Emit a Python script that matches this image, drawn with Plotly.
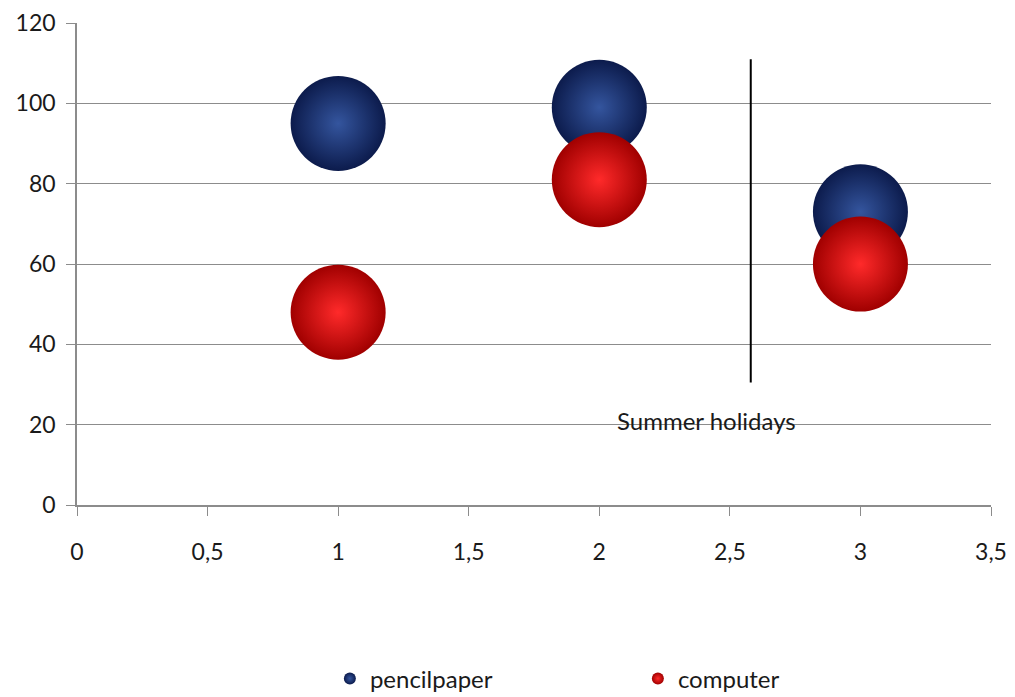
import plotly.graph_objects as go

# Test rounds and mean scores per test mode
rounds = [1, 2, 3]
pencilpaper = [95, 99, 73]
computer = [48, 81, 60]

# Marker for the summer holidays break
break_x = 2.58
break_y = [30.5, 111]
break_label = "Summer holidays"

x_ticks = [0, 0.5, 1, 1.5, 2, 2.5, 3, 3.5]
x_ticktext = ["0", "0,5", "1", "1,5", "2", "2,5", "3", "3,5"]
y_ticks = [0, 20, 40, 60, 80, 100, 120]

FONT = "Lato, 'Open Sans', sans-serif"
GRID = "#8c8c8c"
TEXT = "#1a1a1a"
BUBBLE = 95

fig = go.Figure()

fig.add_trace(go.Scatter(
    x=rounds, y=pencilpaper, mode="markers", name="pencilpaper",
    marker=dict(size=BUBBLE, color="#0c1b4c",
                gradient=dict(type="radial", color="#34559e"),
                line=dict(width=0)),
))
fig.add_trace(go.Scatter(
    x=rounds, y=computer, mode="markers", name="computer",
    marker=dict(size=BUBBLE, color="#a00000",
                gradient=dict(type="radial", color="#ff2a2a"),
                line=dict(width=0)),
))

fig.add_shape(type="line", xref="x", yref="y",
              x0=break_x, x1=break_x, y0=break_y[0], y1=break_y[1],
              line=dict(color="black", width=2))
fig.add_annotation(x=2.41, y=21, xref="x", yref="y", text=break_label,
                   showarrow=False, font=dict(family=FONT, size=24, color=TEXT))

fig.update_xaxes(range=[0, 3.5], tickvals=x_ticks, ticktext=x_ticktext,
                 showgrid=False, zeroline=False, showline=True, linecolor=GRID,
                 linewidth=1.5, ticks="outside", ticklen=9, tickcolor=GRID,
                 ticklabelstandoff=17, automargin=False,
                 tickfont=dict(family=FONT, size=23, color=TEXT))
fig.update_yaxes(range=[0, 120], tickvals=y_ticks, showgrid=True, gridcolor=GRID,
                 gridwidth=1, zeroline=False, showline=True, linecolor=GRID,
                 linewidth=1.5, ticks="outside", ticklen=9, tickcolor=GRID,
                 ticklabelstandoff=6, automargin=False,
                 tickfont=dict(family=FONT, size=23, color=TEXT))

fig.update_layout(
    width=1015, height=697,
    margin=dict(l=77, r=24, t=23, b=192, autoexpand=False),
    plot_bgcolor="white", paper_bgcolor="white",
    font=dict(family=FONT, size=23, color=TEXT),
    legend=dict(orientation="h", xref="container", yref="container",
                x=0.325, xanchor="left", y=0.026, yanchor="middle",
                entrywidth=263, entrywidthmode="pixels", itemsizing="constant",
                font=dict(family=FONT, size=24, color=TEXT)),
)

fig.write_html("out.html")
